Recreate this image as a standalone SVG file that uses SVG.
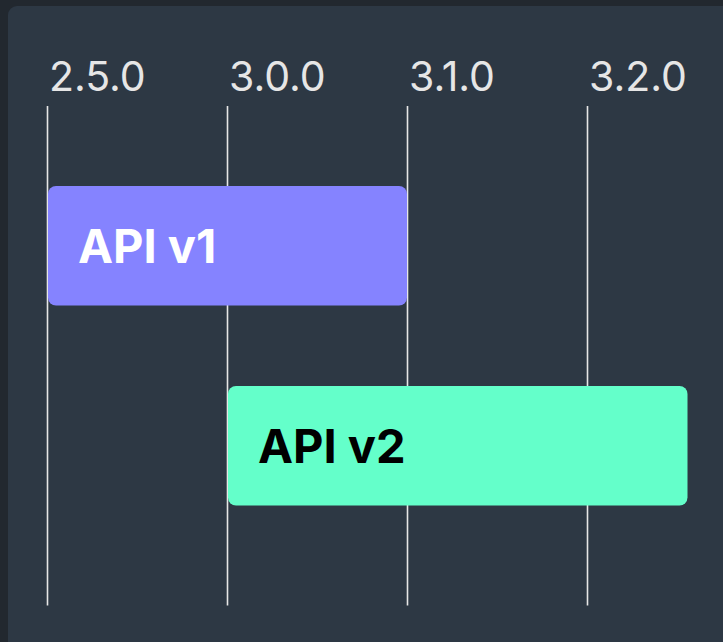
<svg xmlns="http://www.w3.org/2000/svg" width="723" height="642" viewBox="0 0 723 642">
<style>
.tick{font-family:Inter,"Noto Sans",sans-serif;font-size:41px;fill:#e6e6e6}
.grid{stroke:#e6e6e6;stroke-width:1.6}
.bar-label{font-family:Inter,"Noto Sans",sans-serif;font-size:47px;font-weight:700}
</style>
<rect x="0" y="0" width="723" height="642" fill="#22282f"/>
<rect x="8" y="6" width="730" height="650" rx="9" fill="#2d3844"/>
<g id="axis">
<line class="grid" x1="47.5" y1="106" x2="47.5" y2="605.5"/>
<line class="grid" x1="227.5" y1="106" x2="227.5" y2="605.5"/>
<line class="grid" x1="407.5" y1="106" x2="407.5" y2="605.5"/>
<line class="grid" x1="587.5" y1="106" x2="587.5" y2="605.5"/>
<text class="tick" x="49" y="91">2.5.0</text>
<text class="tick" x="229" y="91">3.0.0</text>
<text class="tick" x="409" y="91">3.1.0</text>
<text class="tick" x="589" y="91">3.2.0</text>
</g>
<g id="api-v1">
<rect x="48" y="186" width="359" height="119.5" rx="8" fill="#8583ff"/>
<text class="bar-label" x="78" y="263" fill="#ffffff">API v1</text>
</g>
<g id="api-v2">
<rect x="228" y="386" width="459.5" height="119.5" rx="8" fill="#64ffca"/>
<text class="bar-label" x="258" y="463" fill="#000000">API v2</text>
</g>
</svg>
